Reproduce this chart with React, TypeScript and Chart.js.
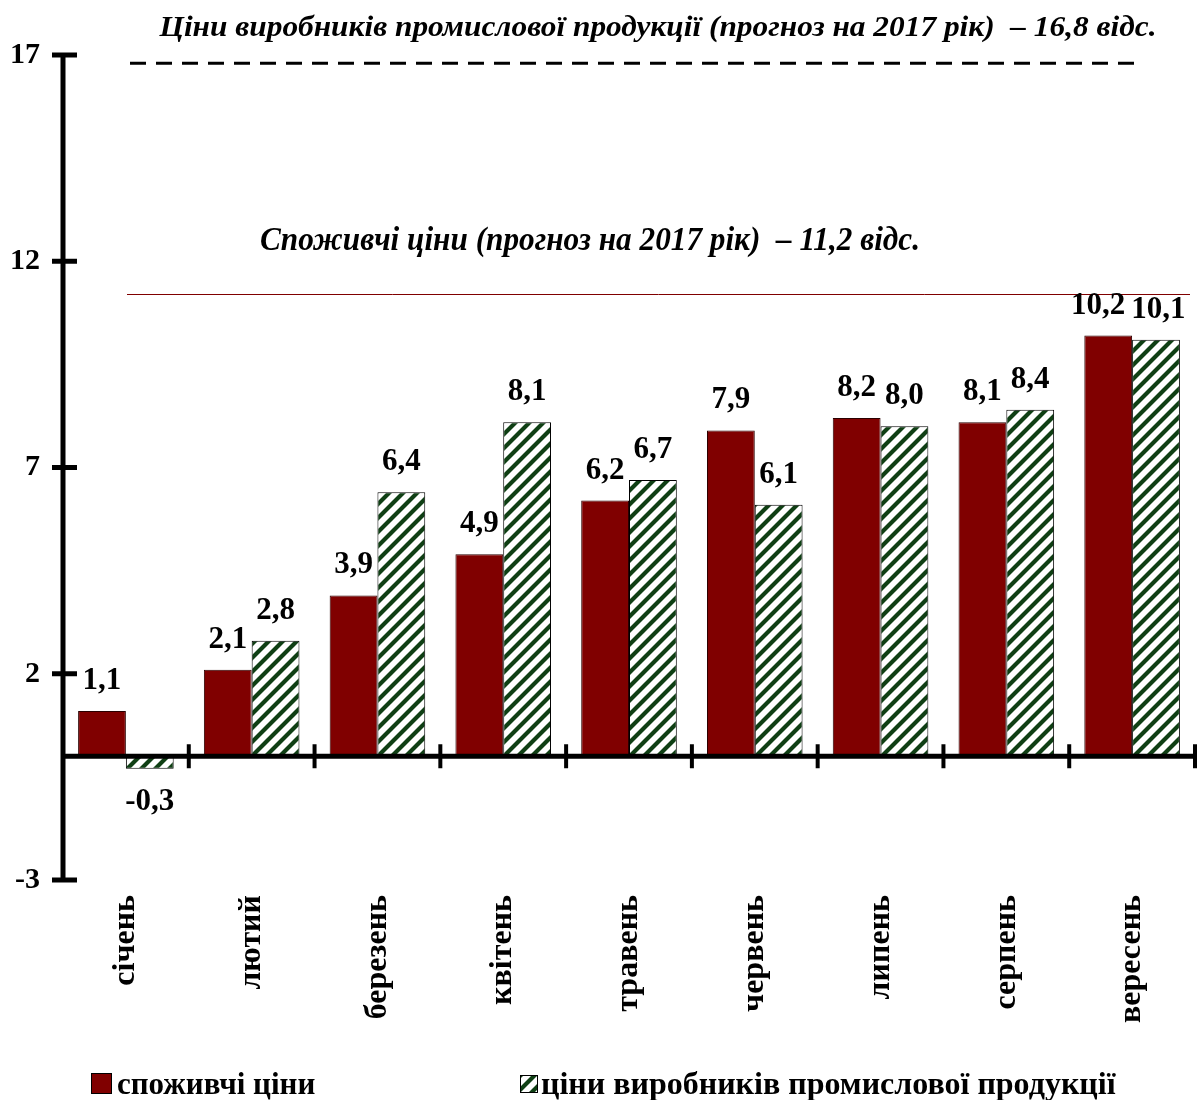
import React, { useEffect, useRef } from 'react';
import { Chart, registerables } from 'chart.js';

Chart.register(...registerables);

const months = ['січень', 'лютий', 'березень', 'квітень', 'травень', 'червень', 'липень', 'серпень', 'вересень'];
const consumerPrices = [1.1, 2.1, 3.9, 4.9, 6.2, 7.9, 8.2, 8.1, 10.2];
const producerPrices = [-0.3, 2.8, 6.4, 8.1, 6.7, 6.1, 8.0, 8.4, 10.1];
const seriesLabels = ['споживчі ціни', 'ціни виробників промислової продукції'];
const yTicks = [-3, 2, 7, 12, 17];
const producerForecast = 16.8;
const consumerForecast = 11.2;
const producerForecastText = 'Ціни виробників промислової продукції (прогноз на 2017 рік)  – 16,8 відс.';
const consumerForecastText = 'Споживчі ціни (прогноз на 2017 рік)  – 11,2 відс.';

const FONT = '"Liberation Serif", "Times New Roman", serif';
const RED = '#800000';

function makeHatch(): CanvasPattern | string {
  const s = 14;
  const c = document.createElement('canvas');
  c.width = s;
  c.height = s;
  const g = c.getContext('2d');
  if (!g) return '#0f3f14';
  g.fillStyle = '#ffffff';
  g.fillRect(0, 0, s, s);
  g.strokeStyle = '#0f3f14';
  g.lineWidth = 4.2;
  g.beginPath();
  g.moveTo(-s / 2, s / 2); g.lineTo(s / 2, -s / 2);
  g.moveTo(0, s); g.lineTo(s, 0);
  g.moveTo(s / 2, s * 1.5); g.lineTo(s * 1.5, s / 2);
  g.stroke();
  return g.createPattern(c, 'repeat') || '#0f3f14';
}

function fmt(v: number): string {
  return v.toFixed(1).replace('.', ',');
}

function drawFitted(ctx: CanvasRenderingContext2D, text: string, cx: number, baseline: number, font: string, width: number) {
  ctx.save();
  ctx.font = font;
  const w = ctx.measureText(text).width;
  const k = width / w;
  ctx.translate(cx, baseline);
  ctx.scale(k, 1);
  ctx.textAlign = 'center';
  ctx.textBaseline = 'alphabetic';
  ctx.fillStyle = '#000';
  ctx.fillText(text, 0, 0);
  ctx.restore();
}

const decorPlugin = {
  id: 'decor',
  afterDatasetsDraw(chart: any) {
    const { ctx, chartArea } = chart;
    const x = chart.scales.x;
    const y = chart.scales.y;
    const left = chartArea.left;
    const right = chartArea.right;
    ctx.save();

    // forecast lines
    const yP = y.getPixelForValue(producerForecast);
    ctx.strokeStyle = '#000';
    ctx.lineWidth = 3;
    ctx.setLineDash([16, 10]);
    ctx.beginPath();
    ctx.moveTo(left + 67, yP);
    ctx.lineTo(right - 60, yP);
    ctx.stroke();
    ctx.setLineDash([]);

    const yC = Math.round(y.getPixelForValue(consumerForecast)) + 0.5;
    ctx.strokeStyle = RED;
    ctx.lineWidth = 1;
    ctx.beginPath();
    ctx.moveTo(left + 64, yC);
    ctx.lineTo(right - 5, yC);
    ctx.stroke();

    drawFitted(ctx, producerForecastText, 658, yP - 27, `italic bold 30px ${FONT}`, 997);
    drawFitted(ctx, consumerForecastText, 590, yC - 45, `italic bold 34px ${FONT}`, 660);

    // y axis
    ctx.strokeStyle = '#000';
    ctx.lineWidth = 5;
    const yTop = y.getPixelForValue(yTicks[yTicks.length - 1]);
    const yBot = y.getPixelForValue(yTicks[0]);
    ctx.beginPath();
    ctx.moveTo(left, yTop - 2);
    ctx.lineTo(left, yBot + 2);
    ctx.stroke();
    for (const t of yTicks) {
      const py = y.getPixelForValue(t);
      ctx.beginPath();
      ctx.moveTo(left - 11, py);
      ctx.lineTo(left + 14, py);
      ctx.stroke();
    }

    // zero line
    const y0 = y.getPixelForValue(0);
    ctx.beginPath();
    ctx.moveTo(left, y0);
    ctx.lineTo(right, y0);
    ctx.stroke();
    ctx.lineWidth = 4;
    for (let i = 1; i <= months.length; i++) {
      const px = i < months.length
        ? (x.getPixelForValue(i - 1) + x.getPixelForValue(i)) / 2
        : right;
      ctx.beginPath();
      ctx.moveTo(px, y0 - 12);
      ctx.lineTo(px, y0 + 12);
      ctx.stroke();
    }

    // value labels (pairs pushed apart when they would collide)
    ctx.fillStyle = '#000';
    ctx.font = `bold 31px ${FONT}`;
    ctx.textAlign = 'center';
    ctx.textBaseline = 'middle';
    const m0 = chart.getDatasetMeta(0);
    const m1 = chart.getDatasetMeta(1);
    const d0 = chart.data.datasets[0].data as number[];
    const d1 = chart.data.datasets[1].data as number[];
    for (let i = 0; i < months.length; i++) {
      const e0 = m0.data[i];
      const e1 = m1.data[i];
      const t0 = fmt(d0[i]);
      const t1 = fmt(d1[i]);
      const y0l = d0[i] >= 0 ? e0.y - 30 : e0.y + 33;
      const y1l = d1[i] >= 0 ? e1.y - 30 : e1.y + 33;
      let x0 = e0.x;
      let x1 = e1.x;
      const w0 = ctx.measureText(t0).width;
      const w1 = ctx.measureText(t1).width;
      if (Math.abs(y0l - y1l) < 30) {
        const overlap = (x0 + w0 / 2) - (x1 - w1 / 2) + 6;
        if (overlap > 0) {
          x0 -= overlap * 0.8;
          x1 += overlap * 0.2;
        }
      }
      ctx.fillText(t0, x0, y0l);
      ctx.fillText(t1, x1, y1l);
    }
    ctx.restore();
  },
  afterDraw(chart: any) {
    const { ctx } = chart;
    const ds = chart.data.datasets;
    ctx.save();
    // legend item 1
    ctx.fillStyle = ds[0].backgroundColor;
    ctx.fillRect(91, 1073, 21, 21);
    ctx.strokeStyle = '#000';
    ctx.lineWidth = 1;
    ctx.strokeRect(91.5, 1073.5, 20, 20);
    ctx.fillStyle = '#000';
    ctx.font = `bold 31px ${FONT}`;
    ctx.textAlign = 'left';
    ctx.textBaseline = 'alphabetic';
    ctx.fillText(ds[0].label, 117, 1094);
    // legend item 2
    ctx.fillStyle = ds[1].backgroundColor;
    ctx.fillRect(520, 1075, 18, 18);
    ctx.strokeRect(520.5, 1075.5, 17, 17);
    ctx.fillStyle = '#000';
    ctx.font = `bold 32px ${FONT}`;
    ctx.fillText(ds[1].label, 541, 1094);
    ctx.restore();
  },
};

export default function App() {
  const ref = useRef<HTMLCanvasElement | null>(null);

  useEffect(() => {
    document.body.style.margin = '0';
    const canvas = ref.current;
    if (!canvas) return;
    const hatch = makeHatch();
    const chart = new Chart(canvas, {
      type: 'bar',
      data: {
        labels: months,
        datasets: [
          {
            label: seriesLabels[0],
            data: consumerPrices,
            backgroundColor: RED,
            borderColor: '#2a0000',
            borderWidth: 1,
            categoryPercentage: 0.76,
            barPercentage: 1,
          },
          {
            label: seriesLabels[1],
            data: producerPrices,
            backgroundColor: hatch as any,
            borderColor: '#000',
            borderWidth: 1,
            categoryPercentage: 0.76,
            barPercentage: 1,
          },
        ],
      },
      options: {
        responsive: false,
        animation: false,
        events: [],
        layout: { padding: { top: 55, right: 3, left: 0, bottom: 0 } },
        plugins: {
          legend: { display: false },
          tooltip: { enabled: false },
          title: { display: false },
        },
        scales: {
          x: {
            grid: { display: false, drawTicks: false },
            border: { display: false },
            ticks: {
              maxRotation: 90,
              minRotation: 90,
              autoSkip: false,
              padding: 15,
              color: '#000',
              font: { family: FONT, size: 32, weight: 'bold' },
            },
            afterFit(s: any) { s.height = 220; },
          },
          y: {
            min: yTicks[0],
            max: yTicks[yTicks.length - 1],
            grid: { display: false, drawTicks: false },
            border: { display: false },
            afterBuildTicks(s: any) { s.ticks = yTicks.map((v) => ({ value: v })); },
            ticks: {
              padding: 23,
              color: '#000',
              font: { family: FONT, size: 30, weight: 'bold' },
              callback: (v: any) => String(v),
            },
            afterFit(s: any) { s.width = 63; },
          },
        },
      },
      plugins: [decorPlugin],
    } as any);
    return () => chart.destroy();
  }, []);

  return (
    <div style={{ width: 1198, height: 1100, position: 'relative' }}>
      <canvas ref={ref} width={1198} height={1100} style={{ display: 'block' }} />
    </div>
  );
}
